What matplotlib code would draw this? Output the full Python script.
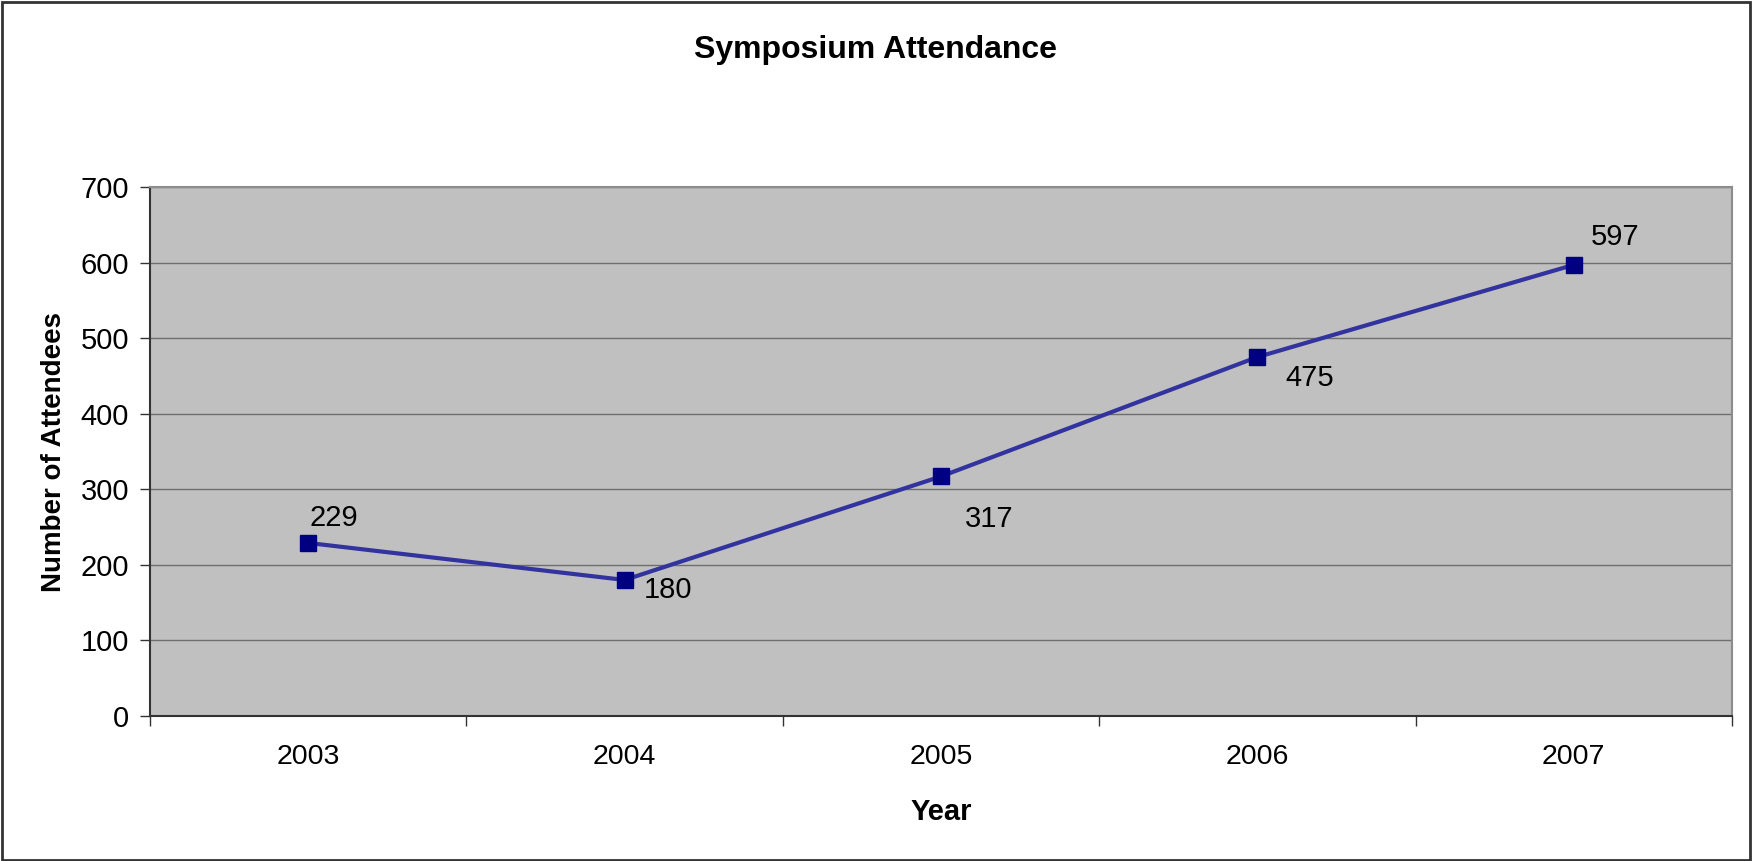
import matplotlib
matplotlib.use("Agg")
import matplotlib.pyplot as plt
from matplotlib.patches import Rectangle

years = ["2003", "2004", "2005", "2006", "2007"]
attendees = [229, 180, 317, 475, 597]
yticks = [0, 100, 200, 300, 400, 500, 600, 700]
# label offsets in points (dx, dy) per point
label_offsets = [(1, 18), (14, -7), (17, -31), (20, -15), (12, 20)]

plt.rcParams['font.family'] = ['Liberation Sans', 'DejaVu Sans']

W, H = 1752, 861
fig = plt.figure(figsize=(W / 100, H / 100), dpi=100)
left, right, top, bottom = 150, 1732, 187, 716
ax = fig.add_axes([left / W, 1 - bottom / H, (right - left) / W, (bottom - top) / H])
ax.set_facecolor("#C0C0C0")

x = list(range(len(years)))
ax.plot(x, attendees, color="#3333A0", lw=3.0, zorder=3)
ax.plot(x, attendees, ls="none", marker="s", ms=11.5, color="#000080", zorder=4)

for xi, v, (dx, dy) in zip(x, attendees, label_offsets):
    ax.annotate(str(v), (xi, v), xytext=(dx, dy), textcoords="offset points",
                ha="left", va="center", fontsize=21, color="black", zorder=5)

ax.set_xlim(-0.5, len(years) - 0.5)
ax.set_ylim(0, 700)
ax.set_yticks(yticks)
ax.set_yticklabels([str(t) for t in yticks], fontsize=21)
ax.yaxis.grid(True, color="#6E6E6E", lw=1.0)
ax.set_axisbelow(True)

ax.set_xticks([i - 0.5 for i in range(len(years) + 1)])
ax.set_xticklabels([])
ax.set_xticks(x, minor=True)
ax.set_xticklabels(years, minor=True, fontsize=20.5)
ax.tick_params(axis="x", which="minor", length=0, pad=20)
ax.tick_params(axis="x", which="major", length=7, width=1, color="#333333", direction="out")
ax.tick_params(axis="y", length=7, width=1, color="#333333", direction="out", pad=8)

for s in ["top", "right"]:
    ax.spines[s].set_color("#8C8C8C")
    ax.spines[s].set_linewidth(1.5)
for s in ["left", "bottom"]:
    ax.spines[s].set_color("#333333")
    ax.spines[s].set_linewidth(1.5)

ax.set_xlabel("Year", fontsize=21, fontweight="bold", labelpad=20)
ax.set_ylabel("Number of Attendees", fontsize=20, fontweight="bold", labelpad=10)
fig.text(0.5, 1 - 50 / H, "Symposium Attendance",
         ha="center", va="center", fontsize=23, fontweight="bold")

fig.patches.append(Rectangle((0.001, 0.001), 0.998, 0.997, transform=fig.transFigure,
                             fill=False, edgecolor="#333333", lw=2))

fig.savefig("out.png", dpi=100)
